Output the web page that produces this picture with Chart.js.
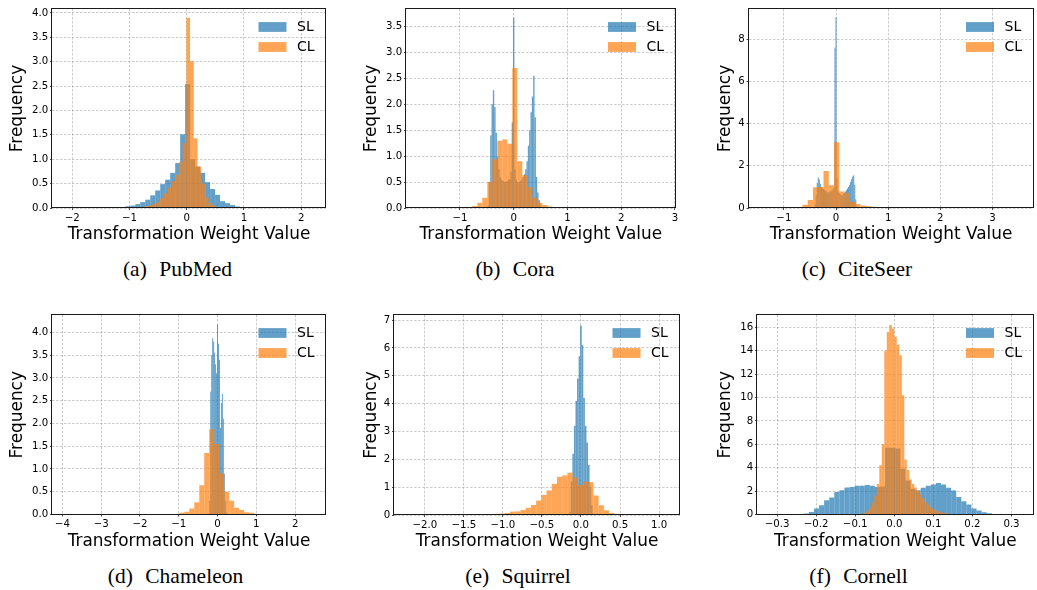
<!DOCTYPE html>
<html><head><meta charset="utf-8">
<script src="https://cdn.jsdelivr.net/npm/chart.js@4.4.1/dist/chart.umd.min.js"></script>
<style>
html,body{margin:0;padding:0;background:#fff;}
#wrap{position:relative;width:1037px;height:590px;overflow:hidden;background:#fff;}
#wrap canvas{position:absolute;}
.cap{position:absolute;font-family:"Liberation Serif","Times New Roman",serif;font-size:21.5px;line-height:22px;color:#000;white-space:pre;word-spacing:7px;transform:translateX(-50%);}
</style></head><body><div id="wrap"></div>
<script>
// ---------------- DATA (histogram bin heights) ----------------
const seriesNames = ['SL', 'CL'];
const captions = ['(a) PubMed', '(b) Cora', '(c) CiteSeer', '(d) Chameleon', '(e) Squirrel', '(f) Cornell'];

// PubMed
const pubmedSLStart = -2.12, pubmedSLWidth = 0.0872;
const pubmedSL = [0.01,0.01,0.01,0.01,0.01,0.01,0.01,0.01,0.01,0.01,
  0.012,0.02,0.035,0.05,0.08,0.12,0.17,0.26,0.36,0.49,0.58,0.72,0.92,1.51,2.54,1.0,0.85,0.72,0.53,0.39,0.27,0.14,0.1,0.06,0.03,0.02,0.012,
  0.01,0.01,0.01,0.01,0.01,0.01,0.01,0.01,0.01,0.01,0.01,0.01,0.01];
const pubmedCLStart = -1.047, pubmedCLWidth = 0.065;
const pubmedCL = [0.01,0.01,0.01,0.015,0.025,0.04,0.06,0.09,0.13,0.2,0.3,0.42,0.55,0.68,0.94,1.33,
  3.9,3.01,1.43,0.85,0.5,0.22,0.1,0.05,0.02,0.01,0.01,0.01,0.01];
const pubmedXTicks = [-2,-1,0,1,2];
const pubmedYTicks = [0,0.5,1,1.5,2,2.5,3,3.5,4];

// Cora
const coraSLStart = -0.5375, coraSLWidth = 0.025;
const coraSL = [0.01,0.02,0.05,0.5,1.4,2.0,2.27,1.95,1.45,1.0,0.75,0.6,0.55,0.52,0.5,0.5,0.52,0.55,0.55,0.7,1.65,3.67,
  0.75,0.55,0.5,0.5,0.52,0.55,0.6,0.65,0.75,0.9,1.2,1.5,1.85,2.15,2.55,1.75,0.6,0.3,0.15,0.05,0.02,0.01];
const coraCLStart = -0.956, coraCLWidth = 0.093;
const coraCL = [0.01,0.01,0.04,0.1,0.2,0.5,0.94,1.3,1.32,1.24,2.7,0.9,0.63,0.4,0.2,0.1,0.06,0.03,0.02,0.01,0.01];
const coraXTicks = [-1,0,1,2,3];
const coraYTicks = [0,0.5,1,1.5,2,2.5,3,3.5];

// CiteSeer
const citeseerSLStart = -0.43, citeseerSLWidth = 0.02;
const citeseerSL = [0.03,0.15,0.6,1.2,1.45,1.35,1.15,1.0,0.95,0.9,0.85,0.8,0.78,0.75,0.75,0.78,0.8,0.82,0.88,0.95,7.6,9.05,
  1.4,0.8,0.72,0.65,0.6,0.62,0.68,0.72,0.78,0.85,0.92,1.0,1.1,1.25,1.38,1.5,1.55,1.1,0.4,0.08,0.02];
const citeseerCLStart = -0.846, citeseerCLWidth = 0.101;
const citeseerCL = [0.02,0.05,0.15,0.38,0.98,1.0,1.75,1.08,3.12,0.78,0.7,0.3,0.19,0.12,0.08,0.06,0.02];
const citeseerXTicks = [-1,0,1,2,3];
const citeseerYTicks = [0,2,4,6,8];

// Chameleon
const chameleonSLStart = -0.2375, chameleonSLWidth = 0.025;
const chameleonSL = [0.02,0.3,2.7,3.5,3.87,3.8,3.55,3.3,3.1,4.17,3.75,3.4,1.9,2.45,2.65,2.1,0.9,0.3,0.05];
const chameleonCLStart = -1.113, chameleonCLWidth = 0.1285;
const chameleonCL = [0.01,0.04,0.06,0.13,0.27,0.64,1.35,1.87,1.55,0.9,0.5,0.3,0.15,0.1,0.05,0.04,0.01];
const chameleonXTicks = [-4,-3,-2,-1,0,1,2];
const chameleonYTicks = [0,0.5,1,1.5,2,2.5,3,3.5,4];

// Squirrel
const squirrelSLStart = -0.15, squirrelSLWidth = 0.02;
const squirrelSL = [0.1,1.2,2.2,3.2,4.1,4.9,5.7,6.8,6.1,4.2,3.2,2.6,1.8,1.0,0.35,0.05];
const squirrelCLStart = -1.1742, squirrelCLWidth = 0.0667;
const squirrelCL = [0.01,0.04,0.05,0.07,0.12,0.13,0.18,0.26,0.36,0.52,0.72,0.88,1.12,1.37,1.42,1.52,
  1.35,1.08,1.2,1.18,0.7,0.35,0.17,0.07,0.02];
const squirrelXTicks = [-2,-1.5,-1,-0.5,0,0.5,1];
const squirrelYTicks = [0,1,2,3,4,5,6,7];

// Cornell
const cornellSLStart = -0.2575, cornellSLWidth = 0.013;
const cornellSL = [0.02,0.04,0.08,0.22,0.51,0.8,1.22,1.45,1.93,2.08,2.31,2.36,2.45,2.45,2.53,2.45,2.36,2.4,
  5.7,5.7,5.65,3.9,2.9,2.2,2.08,2.28,2.45,2.56,2.7,2.56,2.28,2.05,1.5,1.14,0.85,0.51,0.34,0.2,0.1,0.05,0.02];
const cornellCLStart = -0.0896, cornellCLWidth = 0.0064;
const cornellCL = [0.03,0.08,0.18,0.35,0.6,1.0,1.6,2.6,4.2,6.0,
  14.0,15.6,16.2,15.9,15.2,14.5,13.6,10.2,
  4.7,3.8,3.0,2.6,2.3,2.0,1.7,1.4,1.1,0.85,0.65,0.5,0.38,0.28,0.2,0.14,0.1,0.07,0.05,0.03];
const cornellXTicks = [-0.3,-0.2,-0.1,0,0.1,0.2,0.3];
const cornellYTicks = [0,2,4,6,8,10,12,14,16];

// ---------------- STYLE / LAYOUT ----------------
const FONT = "'DejaVu Sans', sans-serif";
const BLUE = 'rgba(31,119,180,0.7)';
const ORANGE = 'rgba(255,127,14,0.7)';
const TITLE_SIZE = 16.9;
const TICK_SIZE = 10.2;

const panels = [
  {canvas:[0,0,340,252],   plot:[52,9,326,208],       xr:[-2.355,2.435], ymax:4.08,
   sl:[pubmedSLStart,pubmedSLWidth,pubmedSL], cl:[pubmedCLStart,pubmedCLWidth,pubmedCL],
   xt:pubmedXTicks, xd:0, yt:pubmedYTicks, yd:1, ytp:7.4, cap:[177.5,258]},
  {canvas:[340,0,350,252], plot:[406,9,675.5,208],    xr:[-2.004,3.01], ymax:3.84,
   sl:[coraSLStart,coraSLWidth,coraSL], cl:[coraCLStart,coraCLWidth,coraCL],
   xt:coraXTicks, xd:0, yt:coraYTicks, yd:1, ytp:21.7, cap:[515,258]},
  {canvas:[690,0,347,252], plot:[748.5,9,1033.5,208], xr:[-1.678,3.787], ymax:9.44,
   sl:[citeseerSLStart,citeseerSLWidth,citeseerSL], cl:[citeseerCLStart,citeseerCLWidth,citeseerCL],
   xt:citeseerXTicks, xd:0, yt:citeseerYTicks, yd:0, ytp:25, cap:[857,258]},
  {canvas:[0,305,340,255], plot:[52,315,326,514.5],   xr:[-4.267,2.796], ymax:4.38,
   sl:[chameleonSLStart,chameleonSLWidth,chameleonSL], cl:[chameleonCLStart,chameleonCLWidth,chameleonCL],
   xt:chameleonXTicks, xd:0, yt:chameleonYTicks, yd:1, ytp:7.4, cap:[175.5,565]},
  {canvas:[340,305,350,255], plot:[394,315,680,515],  xr:[-2.394,1.268], ymax:7.18,
   sl:[squirrelSLStart,squirrelSLWidth,squirrelSL], cl:[squirrelCLStart,squirrelCLWidth,squirrelCL],
   xt:squirrelXTicks, xd:1, yt:squirrelYTicks, yd:0, ytp:21.7, cap:[518,565]},
  {canvas:[690,305,347,255], plot:[757,315,1033.5,514.5], xr:[-0.3514,0.3563], ymax:17.05,
   sl:[cornellSLStart,cornellSLWidth,cornellSL], cl:[cornellCLStart,cornellCLWidth,cornellCL],
   xt:cornellXTicks, xd:1, yt:cornellYTicks, yd:0, ytp:25, cap:[858.5,565]}
];

function toPoints(start, width, heights) {
  return heights.map((h, i) => ({x: start + (i + 0.5) * width, y: h}));
}
function fmt(v, d) {
  const r = Math.round(v * 1e6) / 1e6;
  const s = Math.abs(r).toFixed(d);
  return (r < 0 ? '\u2212' : '') + s;
}

const frameLegend = {
  id: 'frameLegend',
  afterDatasetsDraw(chart) {
    const {ctx, chartArea: a} = chart;
    ctx.save();
    ctx.strokeStyle = '#1a1a1a';
    ctx.lineWidth = 1;
    const l = Math.round(a.left) - 0.5, t = Math.round(a.top) - 0.5;
    const r = Math.round(a.right) - 0.5, b = Math.round(a.bottom) - 0.5;
    ctx.strokeRect(l, t, r - l, b - t);
    // legend (upper right, no frame)
    ctx.font = '14px ' + FONT;
    ctx.textBaseline = 'middle';
    ctx.textAlign = 'left';
    chart.data.datasets.forEach((ds, i) => {
      const cy = a.top + 18 + i * 20;
      ctx.fillStyle = ds.backgroundColor;
      ctx.fillRect(a.right - 67.5, cy - 4.9, 28, 9.8);
      ctx.fillStyle = '#000';
      ctx.fillText(ds.label, a.right - 29, cy + 0.5);
    });
    ctx.restore();
  }
};

const wrap = document.getElementById('wrap');
panels.forEach((p, idx) => {
  const [cx, cy, cw, ch] = p.canvas;
  const [pl, pt, pr, pb] = p.plot;
  const cv = document.createElement('canvas');
  cv.width = cw; cv.height = ch;
  cv.style.left = cx + 'px'; cv.style.top = cy + 'px';
  cv.style.width = cw + 'px'; cv.style.height = ch + 'px';
  wrap.appendChild(cv);

  const gridCommon = {
    color: 'rgba(128,128,128,0.5)', lineWidth: 0.8,
    tickColor: '#1a1a1a', tickWidth: 0.8, tickLength: 2, drawTicks: true
  };
  const setTicks = (vals) => (s) => { s.ticks = vals.map(v => ({value: v})); };

  new Chart(cv, {
    type: 'bar',
    data: {
      datasets: [
        {label: seriesNames[0], data: toPoints(...p.sl), xAxisID: 'x', yAxisID: 'y',
         backgroundColor: BLUE, borderWidth: 0, barPercentage: 1, categoryPercentage: 1,
         grouped: false, inflateAmount: 0, order: 2},
        {label: seriesNames[1], data: toPoints(...p.cl), xAxisID: 'x2', yAxisID: 'y',
         backgroundColor: ORANGE, borderWidth: 0, barPercentage: 1, categoryPercentage: 1,
         grouped: false, inflateAmount: 0, order: 1}
      ]
    },
    options: {
      responsive: false, animation: false, devicePixelRatio: 1,
      layout: {padding: {left: 0, top: pt - cy, right: (cx + cw) - pr, bottom: 0}},
      plugins: {legend: {display: false}, tooltip: {enabled: false}},
      scales: {
        x: {
          type: 'linear', position: 'bottom', min: p.xr[0], max: p.xr[1], offset: false,
          grid: Object.assign({offset: false}, gridCommon),
          border: {display: false, dash: [2.5, 1.5]},
          afterBuildTicks: setTicks(p.xt),
          ticks: {color: '#000', font: {family: FONT, size: TICK_SIZE}, padding: 1.8, maxRotation: 0,
                  autoSkip: false, callback: (v) => fmt(v, p.xd)},
          title: {display: true, text: 'Transformation Weight Value', color: '#000',
                  font: {family: FONT, size: TITLE_SIZE}, padding: {top: 0, bottom: (cy + ch) - (pb + 30.5) - 6.6}},
          afterFit: (s) => { s.height = (cy + ch) - pb; }
        },
        x2: {
          type: 'linear', position: 'bottom', min: p.xr[0], max: p.xr[1], offset: false,
          display: false, afterBuildTicks: setTicks(p.xt)
        },
        y: {
          type: 'linear', position: 'left', min: 0, max: p.ymax,
          grid: gridCommon,
          border: {display: false, dash: [2.5, 1.5]},
          afterBuildTicks: setTicks(p.yt),
          ticks: {color: '#000', font: {family: FONT, size: TICK_SIZE}, padding: 1.7,
                  autoSkip: false, callback: (v) => fmt(v, p.yd)},
          title: {display: true, text: 'Frequency', color: '#000',
                  font: {family: FONT, size: TITLE_SIZE}, padding: {top: p.ytp, bottom: 0}},
          afterFit: (s) => { s.width = pl - cx; }
        }
      }
    },
    plugins: [frameLegend]
  });

  const cap = document.createElement('div');
  cap.className = 'cap';
  cap.textContent = captions[idx];
  cap.style.left = p.cap[0] + 'px';
  cap.style.top = p.cap[1] + 'px';
  wrap.appendChild(cap);
});
</script>
</body></html>
